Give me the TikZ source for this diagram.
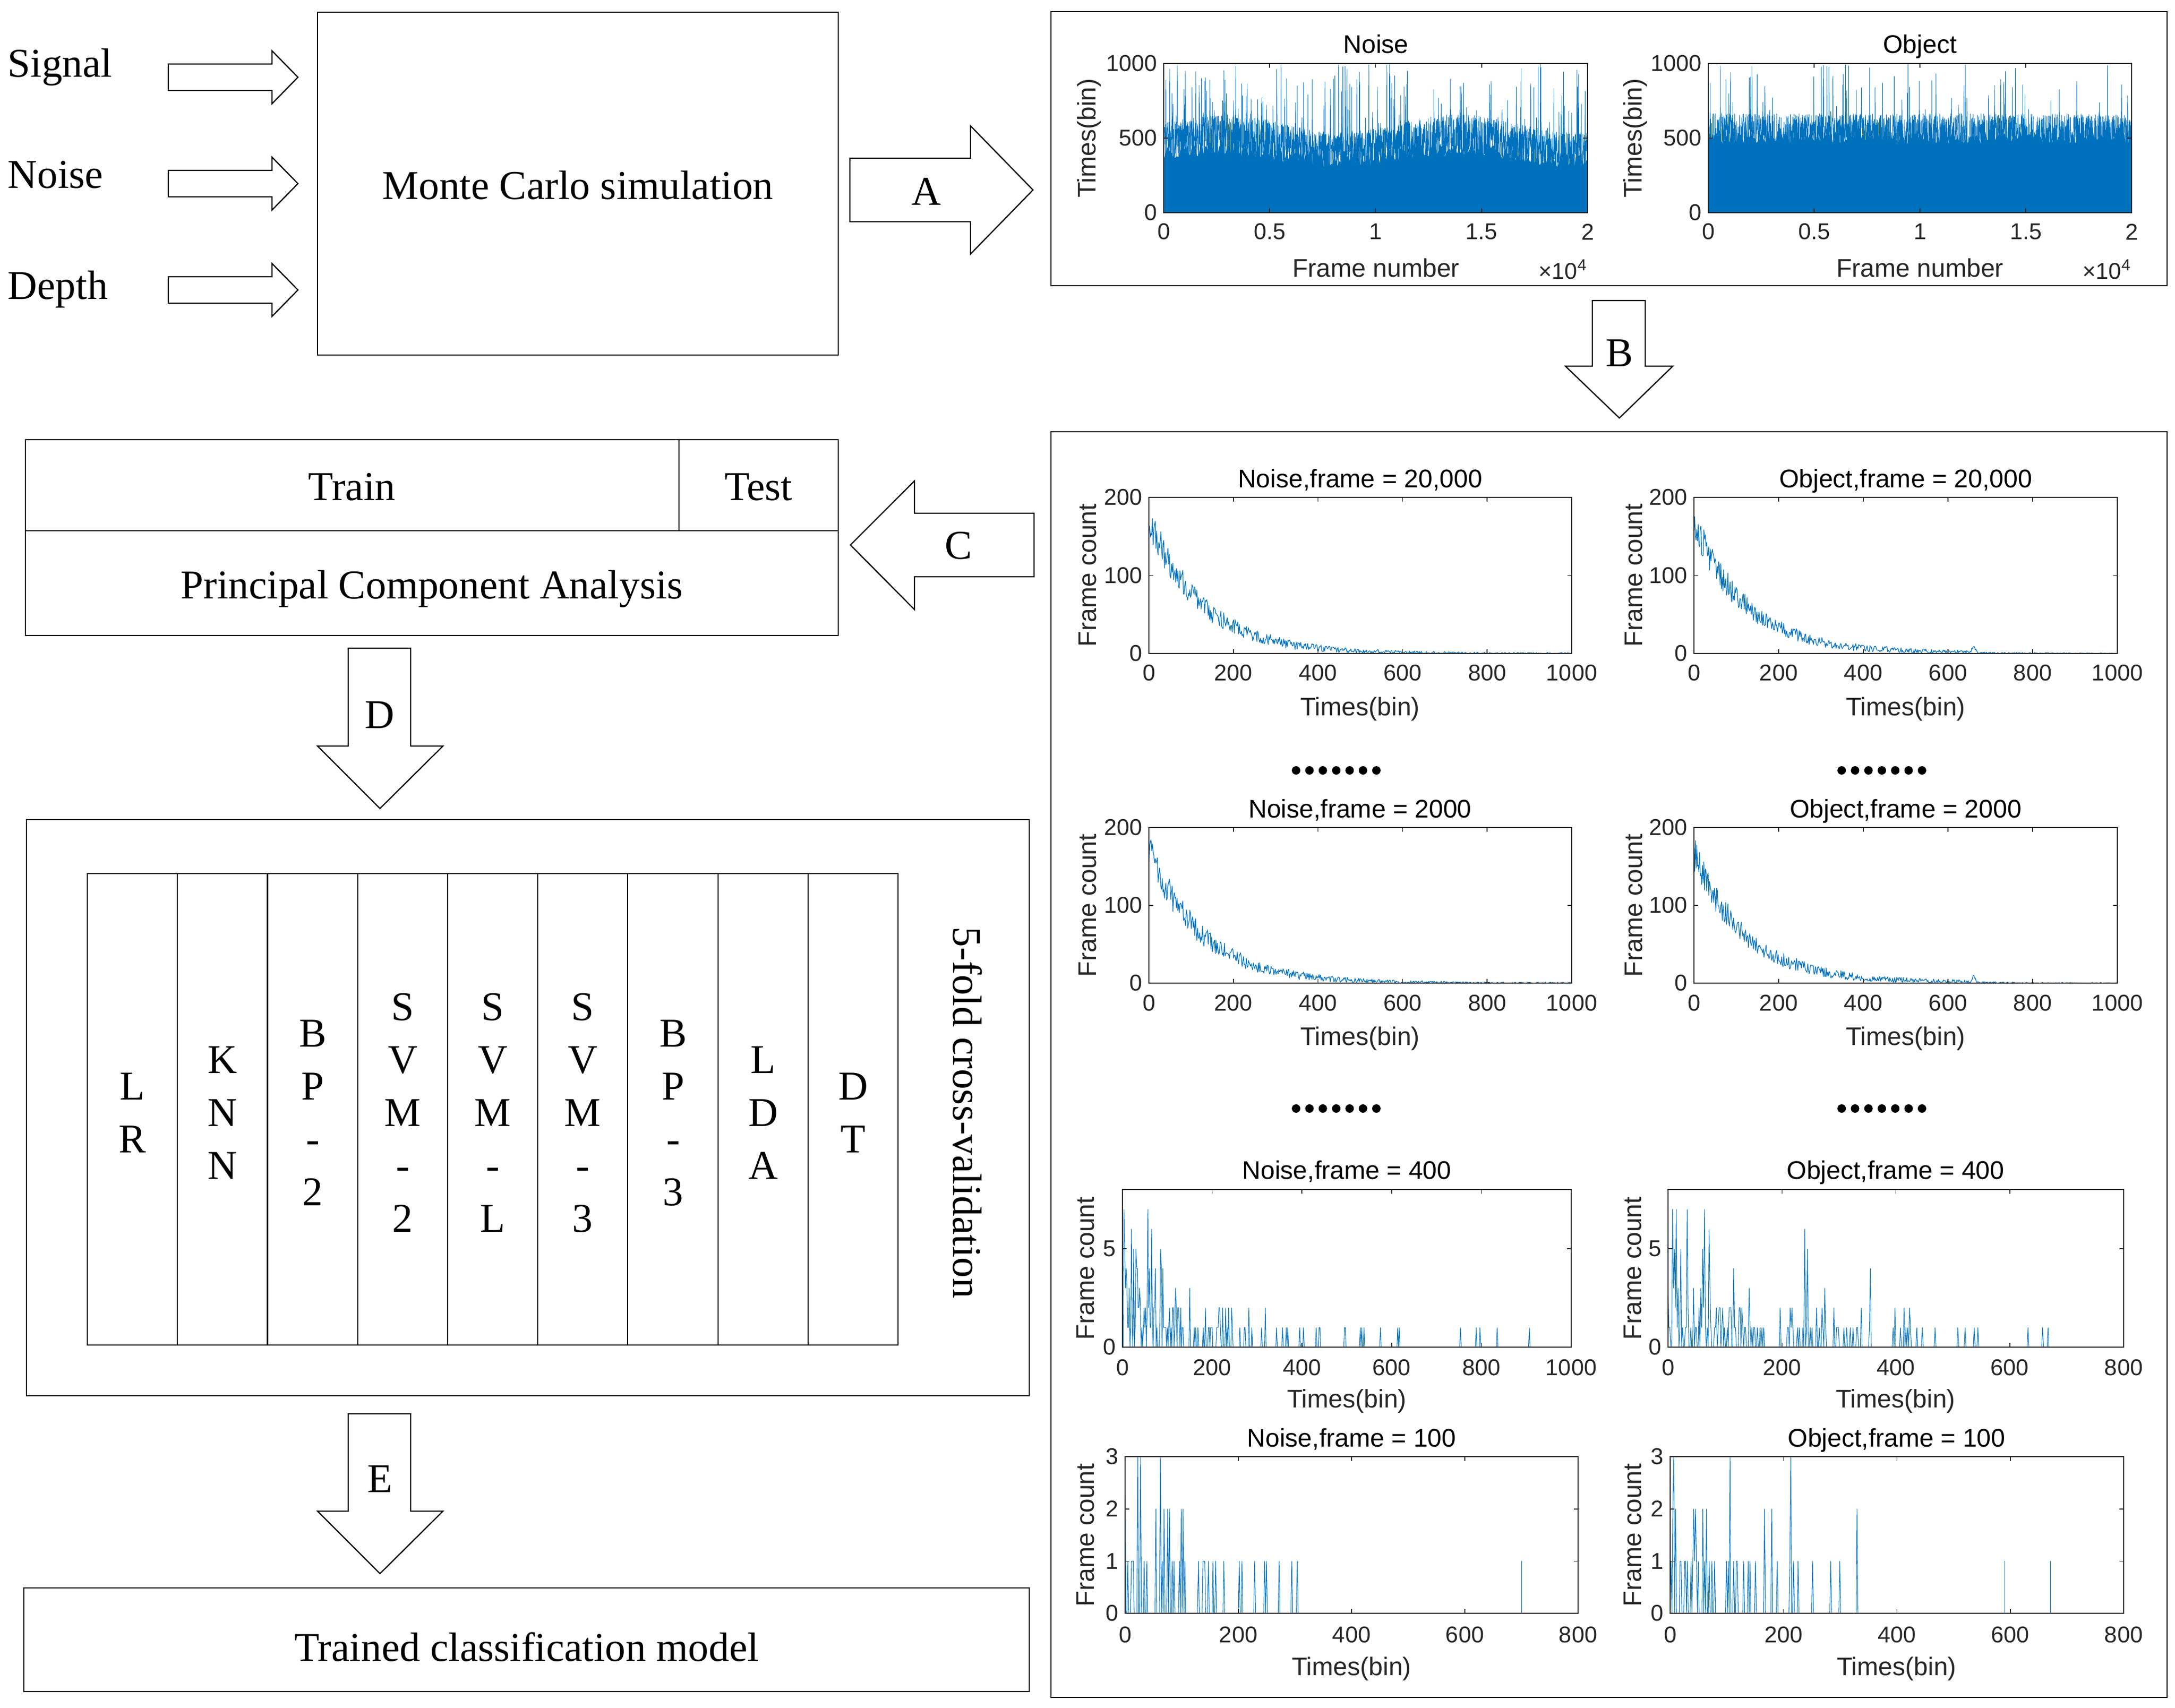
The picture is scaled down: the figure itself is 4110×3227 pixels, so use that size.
\documentclass[tikz,border=0pt]{standalone}
\usepackage{fontspec}
\setmainfont{Liberation Serif}
\newfontfamily\plotfont{Liberation Sans}
\definecolor{mblue}{RGB}{0,114,189}
\definecolor{axc}{gray}{0.15}
\tikzset{
  serif/.style={font=\fontsize{22}{26}\selectfont, inner sep=0pt},
  box/.style={draw=black, line width=0.8pt},
  colline/.style={draw=black, line width=0.6pt},
  arr/.style={draw=black, line width=0.65pt, line join=miter, fill=white},
  axl/.style={draw=axc, line width=0.45pt},
  tk/.style={font=\plotfont\fontsize{12.3}{14}\selectfont, text=axc, inner sep=0pt},
  lab/.style={font=\plotfont\fontsize{13.7}{16}\selectfont, text=axc, inner sep=0pt},
  ttl/.style={font=\plotfont\fontsize{13.7}{16}\selectfont, text=black, inner sep=0pt},
  dat/.style={draw=mblue, line width=0.35pt, line join=round},
  spk/.style={draw=mblue, line width=0.3pt, line join=miter},
}
% x ticks: L R T B xmax labely list prefix
\newcommand\xtk[8]{%
  \foreach \tv [count=\ti] in {#7}{%
    \pgfmathsetmacro\xx{#1+(#2-#1)*(\tv/#5)}%
    \draw[axl] (\xx,#4) -- (\xx,#4-8);%
    \draw[axl] (\xx,#3) -- (\xx,#3+8);%
    \node[tk] (#8x\ti) at (\xx,#6) {\tv};%
  }}
% y ticks: L R T B ymax list prefix
\newcommand\ytk[7]{%
  \foreach \tv [count=\ti] in {#6}{%
    \pgfmathsetmacro\yy{#4-(#4-#3)*(\tv/#5)}%
    \draw[axl] (#1,\yy) -- (#1+8,\yy);%
    \draw[axl] (#2,\yy) -- (#2-8,\yy);%
    \node[tk, anchor=east] (#7y\ti) at (#1-12,\yy) {\tv};%
  }}
\newcommand\dotrow[3]{%
  \foreach \k in {0,...,6}{\fill[black] ({#1+(\k-3)*25.3},#2) circle[radius=0.8mm];}%
  \coordinate (#3) at (#1,#2);}
\begin{document}
\begin{tikzpicture}[x=0.1mm, y=-0.1mm]
\useasboundingbox (0,0) rectangle (4110,3227);
\fill[white] (0,0) rectangle (4110,3227);

% ---------------- left column ----------------
\node[serif, anchor=base west] (sig) at (14,145) {Signal};
\node[serif, anchor=base west] (noi) at (14,355) {Noise};
\node[serif, anchor=base west] (dep) at (14,565) {Depth};
\foreach \cy in {146,347,548}{%
  \draw[arr] (318,\cy-25) -- (514,\cy-25) -- (514,\cy-50) -- (563,\cy) -- (514,\cy+50) -- (514,\cy+25) -- (318,\cy+25) -- cycle;}

\draw[box] (600,23) rectangle (1584,671);
\node[serif, anchor=base] (mc) at (1092,376) {Monte Carlo simulation};

% arrow A
\draw[arr] (1606,299) -- (1834,299) -- (1834,238) -- (1952,359) -- (1834,480) -- (1834,419) -- (1606,419) -- cycle;
\node[serif, anchor=base] (la) at (1750,387) {A};

% Train / Test / PCA
\draw[box] (48,831) rectangle (1584,1201);
\draw[box] (48,1003) -- (1584,1003);
\draw[box] (1283,831) -- (1283,1003);
\node[serif, anchor=base] (train) at (665,945) {Train};
\node[serif, anchor=base] (test) at (1433,945) {Test};
\node[serif, anchor=base] (pca) at (816,1131) {Principal Component Analysis};

% arrow C
\draw[arr] (1954,970) -- (1728,970) -- (1728,909) -- (1607,1030) -- (1728,1152) -- (1728,1090) -- (1954,1090) -- cycle;
\node[serif, anchor=base] (lc) at (1811,1056) {C};

% arrow D
\draw[arr] (658,1225) -- (776,1225) -- (776,1410) -- (837,1410) -- (718,1528) -- (600,1410) -- (658,1410) -- cycle;
\node[serif, anchor=base] (ld) at (717,1376) {D};

% classifiers
\draw[box] (50,1549) rectangle (1945,2638);
\draw[box] (165,1651) rectangle (1697,2542);
\foreach \k in {1,...,8}{\draw[colline] ({165+170.222*\k},1651) -- ({165+170.222*\k},2542);}
\foreach \cx/\nl/\lst [count=\ci] in {250/2/{L,R}, 420/3/{K,N,N}, 591/4/{B,P,-,2}, 761/5/{S,V,M,-,2}, 931/5/{S,V,M,-,L}, 1101/5/{S,V,M,-,3}, 1272/4/{B,P,-,3}, 1442/3/{L,D,A}, 1612/2/{D,T}}{%
  \foreach \ch [count=\k] in \lst {%
    \node[serif, anchor=base] (col\ci-\k) at (\cx,{2128+100*(\k-1-(\nl-1)/2)}) {\ch};}}
\node[serif, rotate=-90] (cv) at (1828,2103) {5-fold cross-validation};

% arrow E
\draw[arr] (658,2672) -- (776,2672) -- (776,2856) -- (837,2856) -- (718,2974) -- (600,2856) -- (658,2856) -- cycle;
\node[serif, anchor=base] (le) at (718,2820) {E};

\draw[box] (45,3001) rectangle (1945,3197);
\node[serif, anchor=base] (tcm) at (995,3139) {Trained classification model};

% ---------------- right column ----------------
\draw[box] (1986,22) rectangle (4095,540);
\draw[box] (1986,816) rectangle (4095,3208);

% arrow B
\draw[arr] (3009,568) -- (3109,568) -- (3109,692) -- (3161,692) -- (3060,790) -- (2958,692) -- (3009,692) -- cycle;
\node[serif, anchor=base] (lb) at (3060,692) {B};

% --- top plots: Noise ---
\pgfmathsetseed{7}
\fill[mblue] (2199,402) -- plot[domain=0:1, samples=300] ({2199+801*\x},{402-282*(0.34+0.04*sin(650*\x)+0.1*rnd)}) -- (3000,402) -- cycle;
\draw[mblue, line width=0.25pt] plot[domain=0:1, samples=2400] ({2199+801*\x},{402-282*ifthenelse(rnd<0.07, 0.5+0.5*pow(max(rnd,0.001),0.8), (0.6+0.06*sin(650*\x))*pow(max(rnd,0.001),0.4))});
\draw[axl] (2199,120) rectangle (3000,402);
\xtk{2199}{3000}{120}{402}{2}{438}{0,0.5,1,1.5,2}{pa}
\ytk{2199}{3000}{120}{402}{1000}{0,500,1000}{pa}
\node[ttl, anchor=base] (ta) at (2600,100) {Noise};
\node[lab, anchor=base] (xa) at (2600,523) {Frame number};
\node[lab, rotate=90] (ya) at (2058,261) {Times(bin)};
\node[tk, anchor=base east] (ea) at (3000,527) {×10\textsuperscript{4}};

% --- top plots: Object ---
\pgfmathsetseed{21}
\fill[mblue] (3228,402) -- plot[domain=0:1, samples=300] ({3228+800*\x},{402-282*(0.46+0.08*rnd)}) -- (4028,402) -- cycle;
\draw[mblue, line width=0.25pt] plot[domain=0:1, samples=2400] ({3228+800*\x},{402-282*ifthenelse(rnd<0.03, 0.62+0.38*rnd, 0.665*pow(max(rnd,0.001),0.35))});
\draw[axl] (3228,120) rectangle (4028,402);
\xtk{3228}{4028}{120}{402}{2}{438}{0,0.5,1,1.5,2}{pb}
\ytk{3228}{4028}{120}{402}{1000}{0,500,1000}{pb}
\node[ttl, anchor=base] (tb) at (3628,100) {Object};
\node[lab, anchor=base] (xb) at (3628,523) {Frame number};
\node[lab, rotate=90] (yb) at (3090,261) {Times(bin)};
\node[tk, anchor=base east] (eb) at (4028,527) {×10\textsuperscript{4}};

% --- row 1: frame = 20,000 ---
\pgfmathsetseed{101}
\draw[dat] plot[domain=0:1000, samples=600] ({2171+0.799*\x},{1235-1.475*min(200,max(0, 172*exp(-\x/125)+1.7*rand*sqrt(172*exp(-\x/125)+0.4)))});
\draw[axl] (2171,940) rectangle (2970,1235);
\xtk{2171}{2970}{940}{1235}{1000}{1272}{0,200,400,600,800,1000}{pc}
\ytk{2171}{2970}{940}{1235}{200}{0,100,200}{pc}
\node[ttl, anchor=base] (tc) at (2570,921) {Noise,frame = 20,000};
\node[lab, anchor=base] (xc) at (2570,1352) {Times(bin)};
\node[lab, rotate=90] (yc) at (2055,1087) {Frame count};

\pgfmathsetseed{202}
\draw[dat] plot[domain=0:1000, samples=600] ({3201+0.8*\x},{1235-1.475*min(200,max(0, 168*exp(-\x/120)+ifthenelse(\x<668,1.2,0)+7*max(0,1-abs(\x-660)/8)+1.7*rand*sqrt(168*exp(-\x/120)+ifthenelse(\x<668,1.2,0.1))))});
\draw[axl] (3201,940) rectangle (4001,1235);
\xtk{3201}{4001}{940}{1235}{1000}{1272}{0,200,400,600,800,1000}{pd}
\ytk{3201}{4001}{940}{1235}{200}{0,100,200}{pd}
\node[ttl, anchor=base] (td) at (3601,921) {Object,frame = 20,000};
\node[lab, anchor=base] (xd) at (3601,1352) {Times(bin)};
\node[lab, rotate=90] (yd) at (3087,1087) {Frame count};

\dotrow{2525}{1456}{dots1}
\dotrow{3556}{1456}{dots2}

% --- row 2: frame = 2000 ---
\pgfmathsetseed{303}
\draw[dat] plot[domain=0:1000, samples=600] ({2171+0.799*\x},{1858-1.47*min(200,max(0, 170*exp(-\x/126)+1.7*rand*sqrt(170*exp(-\x/126)+0.4)))});
\draw[axl] (2171,1564) rectangle (2970,1858);
\xtk{2171}{2970}{1564}{1858}{1000}{1896}{0,200,400,600,800,1000}{pe}
\ytk{2171}{2970}{1564}{1858}{200}{0,100,200}{pe}
\node[ttl, anchor=base] (te) at (2570,1545) {Noise,frame = 2000};
\node[lab, anchor=base] (xe) at (2570,1975) {Times(bin)};
\node[lab, rotate=90] (ye) at (2055,1711) {Frame count};

\pgfmathsetseed{404}
\draw[dat] plot[domain=0:1000, samples=600] ({3201+0.8*\x},{1858-1.47*min(200,max(0, 166*exp(-\x/121)+ifthenelse(\x<668,1.2,0)+7*max(0,1-abs(\x-660)/8)+1.7*rand*sqrt(166*exp(-\x/121)+ifthenelse(\x<668,1.2,0.1))))});
\draw[axl] (3201,1564) rectangle (4001,1858);
\xtk{3201}{4001}{1564}{1858}{1000}{1896}{0,200,400,600,800,1000}{pf}
\ytk{3201}{4001}{1564}{1858}{200}{0,100,200}{pf}
\node[ttl, anchor=base] (tf) at (3601,1545) {Object,frame = 2000};
\node[lab, anchor=base] (xf) at (3601,1975) {Times(bin)};
\node[lab, rotate=90] (yf) at (3087,1711) {Frame count};

\dotrow{2525}{2095}{dots3}
\dotrow{3556}{2095}{dots4}

% --- row 3: frame = 400 ---
\pgfmathsetseed{505}
\draw[spk] plot[domain=0:1000, samples=601] ({2121+0.848*\x},{2546-37.25*min(7,int(-ln(max(rnd,0.0001))*ifthenelse(\x<925, 2.3*exp(-\x/150)+0.28, 0.01)))});
\draw[axl] (2121,2248) rectangle (2969,2546);
\xtk{2121}{2969}{2248}{2546}{1000}{2585}{0,200,400,600,800,1000}{pg}
\ytk{2121}{2969}{2248}{2546}{8}{0,5}{pg}
\node[ttl, anchor=base] (tg) at (2545,2228) {Noise,frame = 400};
\node[lab, anchor=base] (xg) at (2545,2660) {Times(bin)};
\node[lab, rotate=90] (yg) at (2051,2397) {Frame count};

\pgfmathsetseed{606}
\draw[spk] plot[domain=0:800, samples=501] ({3152+1.07625*\x},{2546-37.25*min(7,int(-ln(max(rnd,0.0001))*ifthenelse(\x<672, 2.5*exp(-\x/250)+0.1, 0.001)))});
\draw[axl] (3152,2248) rectangle (4013,2546);
\xtk{3152}{4013}{2248}{2546}{800}{2585}{0,200,400,600,800}{ph}
\ytk{3152}{4013}{2248}{2546}{8}{0,5}{ph}
\node[ttl, anchor=base] (th) at (3582,2228) {Object,frame = 400};
\node[lab, anchor=base] (xh) at (3582,2660) {Times(bin)};
\node[lab, rotate=90] (yh) at (3085,2397) {Frame count};

% --- row 4: frame = 100 ---
\pgfmathsetseed{707}
\draw[spk] plot[domain=0:800, samples=501] ({2126+1.07*\x},{3049-98.667*min(3,int(-ln(max(rnd,0.0001))*ifthenelse(\x<375, 0.9*exp(-\x/300)+0.08, 0.001)))});
\draw[spk] (2875,3049) -- (2875,2950.3);
\draw[axl] (2126,2753) rectangle (2982,3049);
\xtk{2126}{2982}{2753}{3049}{800}{3090}{0,200,400,600,800}{pi}
\ytk{2126}{2982}{2753}{3049}{3}{0,1,2,3}{pi}
\node[ttl, anchor=base] (ti) at (2554,2734) {Noise,frame = 100};
\node[lab, anchor=base] (xi) at (2554,3166) {Times(bin)};
\node[lab, rotate=90] (yi) at (2051,2901) {Frame count};

\pgfmathsetseed{808}
\draw[spk] plot[domain=0:800, samples=501] ({3156+1.07125*\x},{3049-98.667*min(3,int(-ln(max(rnd,0.0001))*ifthenelse(\x<415, 0.9*exp(-\x/300)+0.08, 0.001)))});
\draw[spk] (3788,3049) -- (3788,2950.3);
\draw[spk] (3874,3049) -- (3874,2950.3);
\draw[axl] (3156,2753) rectangle (4013,3049);
\xtk{3156}{4013}{2753}{3049}{800}{3090}{0,200,400,600,800}{pj}
\ytk{3156}{4013}{2753}{3049}{3}{0,1,2,3}{pj}
\node[ttl, anchor=base] (tj) at (3584,2734) {Object,frame = 100};
\node[lab, anchor=base] (xj) at (3584,3166) {Times(bin)};
\node[lab, rotate=90] (yj) at (3085,2901) {Frame count};

\end{tikzpicture}
\end{document}
